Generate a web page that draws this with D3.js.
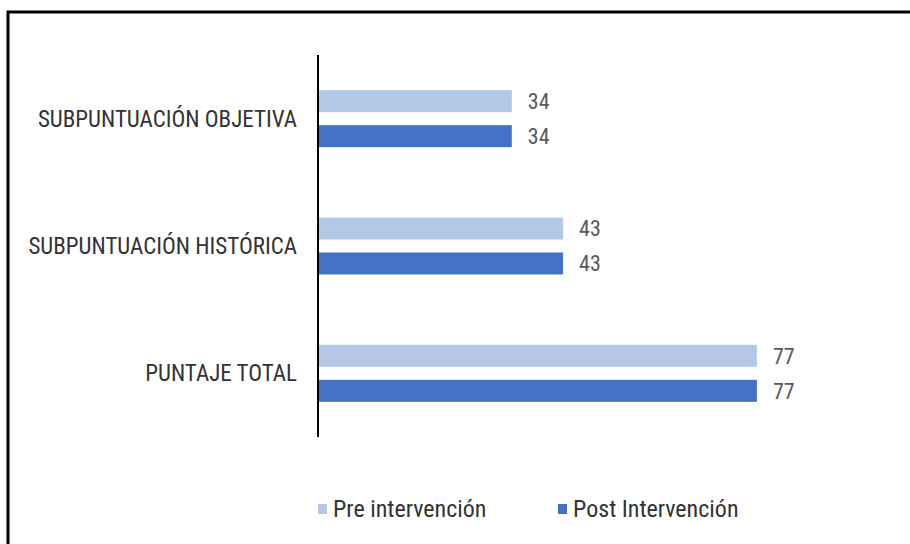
<!DOCTYPE html>
<html>
<head>
<meta charset="utf-8">
<script src="https://cdn.jsdelivr.net/npm/d3@7"></script>
<style>
  body { margin: 0; background: #fff; }
  svg text { font-family: "Liberation Sans Narrow", "Roboto Condensed", "DejaVu Sans Condensed", sans-serif; }
</style>
</head>
<body>
<svg id="chart" width="910" height="544"></svg>
<script>
// categories top to bottom
const categories = ["SUBPUNTUACIÓN OBJETIVA", "SUBPUNTUACIÓN HISTÓRICA", "PUNTAJE TOTAL"];
const seriesNames = ["Pre intervención", "Post Intervención"];
const preValues = [34, 43, 77];
const postValues = [34, 43, 77];
const seriesColors = ["#b4c7e7", "#4472c4"];

const svg = d3.select("#chart");

// frame (only top and left edges visible in the reference)
svg.append("path")
  .attr("d", "M8,544V12H910")
  .attr("fill", "none")
  .attr("stroke", "#000")
  .attr("stroke-width", 3);

const x = d3.scaleLinear().domain([0, 100]).range([318, 888]);
const y0 = d3.scaleBand().domain(categories).range([55, 437]);
const y1 = d3.scaleBand().domain(seriesNames)
  .range([y0.bandwidth() / 2 - 28.5, y0.bandwidth() / 2 + 28.5])
  .paddingInner(0.371);

const rows = categories.map((c, i) => ({
  cat: c,
  vals: [
    { name: seriesNames[0], value: preValues[i], color: seriesColors[0] },
    { name: seriesNames[1], value: postValues[i], color: seriesColors[1] }
  ]
}));

const groups = svg.append("g")
  .selectAll("g")
  .data(rows)
  .enter().append("g")
    .attr("transform", d => `translate(0,${y0(d.cat)})`);

groups.selectAll("rect")
  .data(d => d.vals)
  .enter().append("rect")
    .attr("x", x(0))
    .attr("y", d => y1(d.name))
    .attr("width", d => x(d.value) - x(0))
    .attr("height", y1.bandwidth())
    .attr("fill", d => d.color);

groups.selectAll("text.val")
  .data(d => d.vals)
  .enter().append("text")
    .attr("class", "val")
    .attr("x", d => x(d.value) + 16)
    .attr("y", d => y1(d.name) + y1.bandwidth() / 2)
    .attr("dy", "0.35em")
    .attr("fill", "#595959")
    .attr("font-size", 22)
    .text(d => d.value);

// category labels
svg.append("g")
  .selectAll("text")
  .data(categories)
  .enter().append("text")
    .attr("x", 297)
    .attr("y", d => y0(d) + y0.bandwidth() / 2)
    .attr("dy", "0.35em")
    .attr("text-anchor", "end")
    .attr("fill", "#333")
    .attr("font-size", 23)
    .text(d => d);

// vertical axis line
svg.append("line")
  .attr("x1", x(0)).attr("x2", x(0))
  .attr("y1", 55).attr("y2", 437)
  .attr("stroke", "#000")
  .attr("stroke-width", 2);

// legend
const legendX = [318, 558];
const legend = svg.append("g")
  .selectAll("g")
  .data(seriesNames)
  .enter().append("g")
    .attr("transform", (d, i) => `translate(${legendX[i]},509)`);

legend.append("rect")
  .attr("x", 0).attr("y", -5)
  .attr("width", 9).attr("height", 10)
  .attr("fill", (d, i) => seriesColors[i]);

legend.append("text")
  .attr("x", 15)
  .attr("dy", "0.35em")
  .attr("fill", "#333")
  .attr("font-size", 24)
  .text(d => d);
</script>
</body>
</html>
